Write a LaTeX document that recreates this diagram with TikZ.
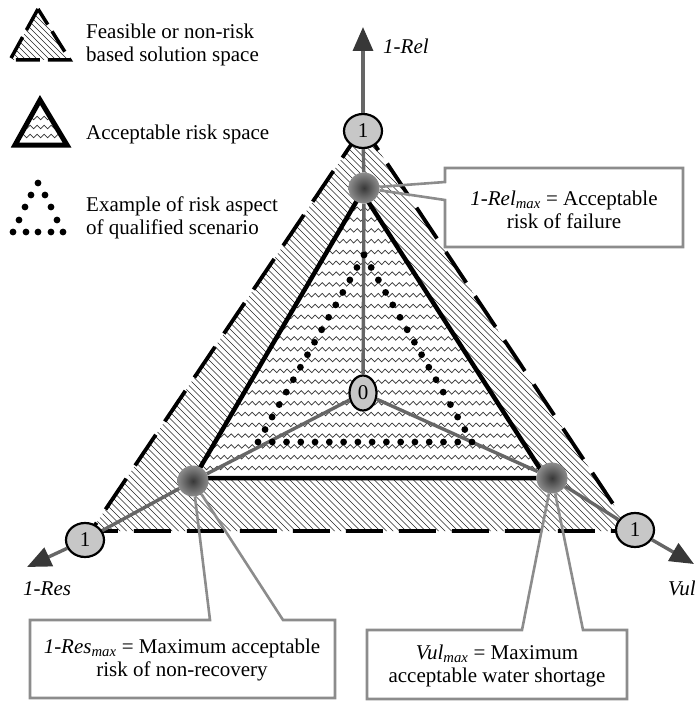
\documentclass[tikz,border=0pt]{standalone}
\usepackage{fontspec}
\setmainfont{Liberation Serif}
\usetikzlibrary{arrows.meta,decorations.pathmorphing,shapes.geometric,calc}

\begin{document}
\begin{tikzpicture}[x=1pt,y=-1pt,
  font=\fontsize{21}{23.5}\selectfont,
  hatch/.style={line width=0.6pt, black!85},
  wave/.style={line width=0.7pt, black!80, decorate,
    decoration={snake, segment length=7pt, amplitude=1.8pt}},
  outerline/.style={line width=3.8pt, dash pattern=on 37pt off 16pt},
  innerline/.style={line width=4.5pt, line join=miter},
  axisline/.style={line width=3.4pt, black!60},
  axistip/.style={-{Triangle[length=24pt,width=20pt,color=black!78]}},
  unitmark/.style={ellipse, draw, line width=2.2pt, fill=black!22,
    minimum width=38pt, minimum height=34pt, inner sep=0pt},
  originmark/.style={ellipse, draw, line width=2.2pt, fill=black!22,
    minimum width=27pt, minimum height=35pt, inner sep=0pt},
  limitmark/.style={circle, minimum size=31pt, inner sep=0pt,
    inner color=black!78, outer color=black!45},
  scendot/.style={circle, fill=black, minimum size=6.8pt, inner sep=0pt},
  callout/.style={draw=black!45, line width=2.6pt, line join=miter},
  boxtext/.style={align=center, inner sep=0pt},
  legendtext/.style={anchor=base west, inner sep=0pt},
]
\useasboundingbox (0,0) rectangle (695,701);

% ---------- triangle corners ----------
\coordinate (oT) at (363,127);
\coordinate (oL) at (91,531);
\coordinate (oR) at (631,531);
\coordinate (iT) at (362,192);
\coordinate (iL) at (194,478);
\coordinate (iR) at (546,478);
\coordinate (dT) at (364,255);
\coordinate (dL) at (258,442);
\coordinate (dR) at (472,442);

% feasible space: diagonal hatching
\begin{scope}
  \clip (oT) -- (oL) -- (oR) -- cycle;
  \foreach \c in {-450,-443.5,...,510}
    \draw[hatch] (\c+80,80) -- (\c+560,560);
\end{scope}

% acceptable risk space: wavy fill
\fill[white] (iT) -- (iL) -- (iR) -- cycle;
\begin{scope}
  \clip (iT) -- (iL) -- (iR) -- cycle;
  \foreach \k in {0,...,26}
    \draw[wave] (180,468-10.8*\k) -- (560,468-10.8*\k);
\end{scope}

% outlines
\draw[outerline] (oT) -- (oL) -- (oR) -- cycle;
\draw[innerline] (iT) -- (iL) -- (iR) -- cycle;

% ---------- markers on the axes ----------
\node[originmark] (o) at (363,393) {0};
\node[limitmark] (kT) at (364,188) {};
\node[limitmark] (kL) at (193,481) {};
\node[limitmark] (kR) at (552,478) {};
\node[unitmark] (uT) at (363,131) {1};
\node[unitmark] (uL) at (85,540) {1};
\node[unitmark] (uR) at (635,530) {1};
\coordinate (tipT) at (363,27);
\coordinate (tipL) at (27,567);
\coordinate (tipR) at (694,564);

% axes
\draw[axisline] (o) -- (kT) -- (uT);
\draw[axisline, axistip] (uT) -- (tipT);
\draw[axisline] (o) -- (kL) -- (uL);
\draw[axisline, axistip] (uL) -- (tipL);
\draw[axisline] (o) -- (kR) -- (uR);
\draw[axisline, axistip] (uR) -- (tipR);

% qualified scenario: dotted triangle
\foreach \i in {0,...,15}
  \node[scendot] (sl\i) at ($(dT)!\i/15!(dL)$) {};
\foreach \i in {1,...,15}
  \node[scendot] (sr\i) at ($(dT)!\i/15!(dR)$) {};
\foreach \i in {1,...,14}
  \node[scendot] (sb\i) at ($(dL)!\i/15!(dR)$) {};

% axis labels
\node[legendtext] (lRel) at (383,53) {\textit{1-Rel}};
\node[legendtext] (lRes) at (23,595) {\textit{1-Res}};
\node[legendtext] (lVul) at (668,595) {\textit{Vul}};

% ---------- callouts ----------
\coordinate (aTa) at (445,182);
\coordinate (aTb) at (445,200);
\fill[white] (445,168) rectangle (683,247);
\draw[callout] (kT) -- (aTa) -- (445,168) -- (683,168) -- (683,247)
  -- (445,247) -- (aTb) -- (kT);
\node[boxtext] (tRel) at (564,210)
  {\textit{1-Rel}\textsubscript{\textit{max}} = Acceptable\\risk of failure};

\coordinate (aLa) at (210,620);
\coordinate (aLb) at (283,620);
\fill[white] (30,620) rectangle (335,698);
\draw[callout] (kL) -- (aLb) -- (335,620) -- (335,698) -- (30,698)
  -- (30,620) -- (aLa) -- (kL);
\node[boxtext] (tRes) at (182,660)
  {\textit{1-Res}\textsubscript{\textit{max}} = Maximum acceptable\\risk of non-recovery};

\coordinate (aRa) at (522,630);
\coordinate (aRb) at (583,630);
\fill[white] (367,630) rectangle (627,699);
\draw[callout] (kR) -- (aRb) -- (627,630) -- (627,699) -- (367,699)
  -- (367,630) -- (aRa) -- (kR);
\node[boxtext] (tVul) at (497,666)
  {\textit{Vul}\textsubscript{\textit{max}} = Maximum\\acceptable water shortage};

% ---------- legend ----------
\coordinate (g1T) at (38,9);
\coordinate (g1L) at (10,60);
\coordinate (g1R) at (70,60);
\begin{scope}
  \clip (g1T) -- (g1L) -- (g1R) -- cycle;
  \foreach \c in {-64,-58,...,70}
    \draw[hatch] (\c,0) -- (\c+70,70);
\end{scope}
\draw[line width=3.5pt, dash pattern=on 24pt off 8pt] (g1T) -- (g1L) -- (g1R) -- cycle;
\node[legendtext] (lg1a) at (86,38) {Feasible or non-risk};
\node[legendtext] (lg1b) at (86,62) {based solution space};

\coordinate (g2T) at (40,100);
\coordinate (g2L) at (15,145);
\coordinate (g2R) at (67,145);
\begin{scope}
  \clip (g2T) -- (g2L) -- (g2R) -- cycle;
  \foreach \y in {118,127,136}
    \draw[wave] (0,\y) -- (80,\y);
\end{scope}
\draw[line width=5pt, line join=miter] (g2T) -- (g2L) -- (g2R) -- cycle;
\node[legendtext] (lg2) at (86,139) {Acceptable risk space};

\foreach \x/\y [count=\n] in {38/183, 31/195, 45/195, 25/207, 51/207,
    19/220, 57/220, 13/232, 26/232, 38/232, 51/232, 63/232}
  \node[scendot] (gd\n) at (\x,\y) {};
\node[legendtext] (lg3a) at (86,211) {Example of risk aspect};
\node[legendtext] (lg3b) at (86,234) {of qualified scenario};

\end{tikzpicture}
\end{document}
